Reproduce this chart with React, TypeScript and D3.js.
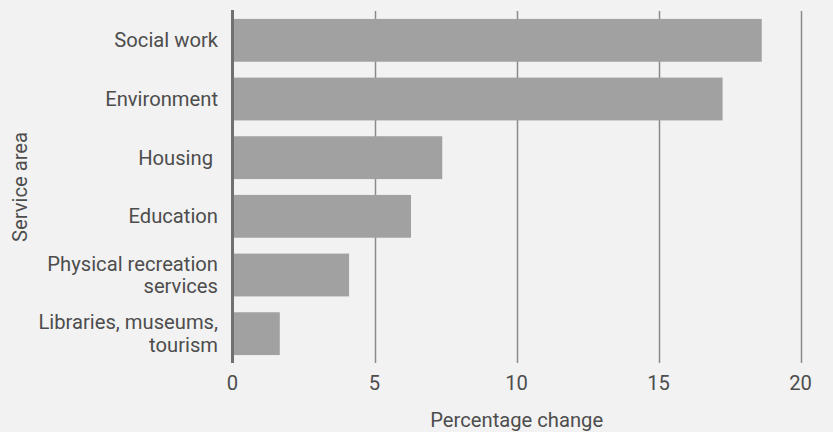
import React from "react";
import * as d3 from "d3";

const categories: string[][] = [
  ["Social work"],
  ["Environment"],
  ["Housing "],
  ["Education"],
  ["Physical recreation", "services"],
  ["Libraries, museums,", "tourism"],
];
const values: number[] = [18.6, 17.22, 7.35, 6.25, 4.07, 1.63];
const xTicks: number[] = [0, 5, 10, 15, 20];
const xTitle = "Percentage change";
const yTitle = "Service area";

const W = 833;
const H = 432;
const left = 233.5;
const right = 801.5;
const top = 11;
const bottom = 363;
const FONT = "Roboto, 'Helvetica Neue', Arial, sans-serif";
const TEXT = "#4d4d4d";
const FS = 20.2;

export default function App() {
  const x = d3.scaleLinear().domain([0, 20]).range([left, right]);
  const y = d3
    .scaleBand<number>()
    .domain(d3.range(values.length))
    .range([top, bottom])
    .paddingInner(0.27)
    .paddingOuter(0.135);

  return (
    <svg
      width={W}
      height={H}
      style={{ position: "absolute", left: 0, top: 0, background: "#f2f2f2" }}
      fontFamily={FONT}
    >
      <rect x={0} y={0} width={W} height={H} fill="#f2f2f2" />
      {xTicks
        .filter((t) => t !== 0)
        .map((t) => (
          <line
            key={t}
            x1={x(t)}
            x2={x(t)}
            y1={top}
            y2={bottom}
            stroke="#8a8a8a"
            strokeWidth={1.5}
          />
        ))}
      {values.map((v, i) => (
        <rect
          key={i}
          x={x(0)}
          y={y(i)}
          width={x(v) - x(0)}
          height={y.bandwidth()}
          fill="#a1a1a1"
        />
      ))}
      <line
        x1={x(0) - 1}
        x2={x(0) - 1}
        y1={top - 1}
        y2={bottom}
        stroke="#707070"
        strokeWidth={3}
      />
      {categories.map((lines, i) => {
        const cy = (y(i) as number) + y.bandwidth() / 2;
        const lh = 22.7;
        const start = cy - ((lines.length - 1) * lh) / 2;
        return (
          <text
            key={i}
            textAnchor="end"
            fontSize={FS}
            fill={TEXT}
            style={{ whiteSpace: "pre" }}
          >
            {lines.map((l, j) => (
              <tspan key={j} x={218} y={start + j * lh} dy="0.35em">
                {l}
              </tspan>
            ))}
          </text>
        );
      })}
      {xTicks.map((t) => (
        <text
          key={t}
          x={x(t) - 1}
          y={382.7}
          dy="0.35em"
          textAnchor="middle"
          fontSize={FS}
          fill={TEXT}
        >
          {t}
        </text>
      ))}
      <text
        x={516.7}
        y={419.5}
        dy="0.35em"
        textAnchor="middle"
        fontSize={FS}
        fill={TEXT}
      >
        {xTitle}
      </text>
      <text
        transform={`translate(20,187) rotate(-90)`}
        dy="0.35em"
        textAnchor="middle"
        fontSize={FS}
        fill={TEXT}
      >
        {yTitle}
      </text>
    </svg>
  );
}
